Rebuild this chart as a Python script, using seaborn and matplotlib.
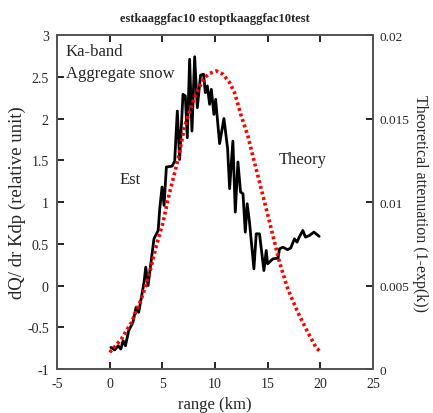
import matplotlib
matplotlib.use("Agg")
import matplotlib.pyplot as plt
import seaborn as sns
import pandas as pd

# Estimated dQ/dr Kdp (left axis)
est_range = [0.1, 0.47, 0.8, 1.05, 1.27, 1.49, 1.8, 2.2, 2.5, 2.75, 3.26, 3.42, 3.64, 3.96,
             4.2, 4.6, 4.75, 4.97, 5.16, 5.38, 5.92, 6.17, 6.42, 6.64, 6.96, 7.18, 7.37, 7.59,
             7.81, 8.07, 8.32, 8.63, 8.92, 9.08, 9.27, 9.49, 9.65, 9.9, 10.06, 10.44, 10.85,
             11.2, 11.39, 11.7, 11.93, 12.18, 12.43, 12.66, 12.88, 13.06, 13.28, 13.7, 13.92,
             14.23, 14.65, 14.87, 15.0, 15.5, 16.0, 16.13, 16.45, 16.9, 17.2, 17.55, 17.8,
             18.0, 18.35, 18.6, 18.98, 19.4, 19.6, 19.9]
est_value = [-0.74, -0.77, -0.72, -0.76, -0.66, -0.72, -0.54, -0.44, -0.26, -0.32, 0.04, 0.22,
             0.0, 0.32, 0.56, 0.66, 0.92, 1.18, 0.96, 1.42, 1.43, 1.49, 2.09, 1.51, 2.29, 2.27,
             1.77, 2.71, 1.85, 2.74, 2.13, 2.52, 2.53, 2.31, 2.39, 2.17, 2.35, 2.05, 2.23, 1.70,
             2.0, 1.64, 1.16, 1.73, 0.88, 1.48, 1.12, 1.10, 0.64, 0.98, 0.76, 0.2, 0.62, 0.62,
             0.18, 0.42, 0.26, 0.32, 0.33, 0.44, 0.46, 0.43, 0.45, 0.56, 0.52, 0.58, 0.66,
             0.58, 0.60, 0.64, 0.62, 0.59]

# Theoretical attenuation (right axis)
theo_range = [0.0, 1.1, 2.06, 3.0, 3.8, 4.43, 5.07, 5.54, 6.49, 7.12, 7.75, 8.39, 9.02, 9.49,
              10.12, 10.76, 11.39, 11.86, 12.5, 13.13, 13.6, 14.23, 14.87, 15.5, 16.13, 16.92,
              17.87, 18.82, 19.6, 20.0]
theo_value = [0.001, 0.0018, 0.0028, 0.0042, 0.0058, 0.0074, 0.0088, 0.0102, 0.01255, 0.01455,
              0.01575, 0.01675, 0.01745, 0.0177, 0.01785, 0.01765, 0.01715, 0.01655, 0.01515,
              0.01395, 0.01275, 0.0112, 0.0096, 0.008, 0.0064, 0.0048, 0.0034, 0.0022, 0.0013,
              0.00105]

x_ticks = [-5, 0, 5, 10, 15, 20, 25]
y_ticks = [-1, -0.5, 0, 0.5, 1, 1.5, 2, 2.5, 3]
y_tick_labels = ["-1", "-0.5", "0", "0.5", "1", "1.5", "2", "2.5", "3"]
y2_ticks = [0, 0.005, 0.01, 0.015, 0.02]
y2_tick_labels = ["0", "0.005", "0.01", "0.015", "0.02"]

sns.set_style("ticks")
plt.rcParams["font.family"] = ["Liberation Serif", "DejaVu Serif"]

fig = plt.figure(figsize=(4.33, 4.14), dpi=100)
ax = fig.add_axes([0.132, 0.106, 0.729, 0.807])
ax2 = ax.twinx()

est_df = pd.DataFrame({"range": est_range, "value": est_value})
theo_df = pd.DataFrame({"range": theo_range, "value": theo_value})

sns.lineplot(data=est_df, x="range", y="value", ax=ax, color="black", lw=2.0,
             sort=False, estimator=None)
sns.lineplot(data=theo_df, x="range", y="value", ax=ax2, color="red", lw=2.6,
             sort=False, estimator=None, linestyle=(0, (0.8, 0.8)))

ax.set_xlim(-5, 25)
ax.set_ylim(-1, 3)
ax2.set_ylim(0, 0.02)
ax.set_xticks(x_ticks)
ax.set_xticklabels([str(t) for t in x_ticks])
ax.set_yticks(y_ticks)
ax.set_yticklabels(y_tick_labels)
ax2.set_yticks(y2_ticks)
ax2.set_yticklabels(y2_tick_labels)

for a in (ax, ax2):
    for s in a.spines.values():
        s.set_visible(True)
        s.set_color("#555555")
        s.set_linewidth(1.3)
ax.tick_params(axis="x", direction="in", top=True, length=5, width=1.2, labelsize=10, pad=6, color="black")
ax.tick_params(axis="y", direction="in", length=5, width=1.2, labelsize=10, pad=6, color="black")
ax2.tick_params(axis="y", direction="in", length=5, width=1.2, labelsize=9.5, pad=5, color="black")

ax.set_xlabel("range (km)", fontsize=12, labelpad=4)
ax.set_ylabel("dQ/ dr Kdp (relative unit)", fontsize=13.5, labelpad=1)
ax2.set_ylabel("Theoretical attenuation (1-exp(k))", fontsize=11.5, rotation=270, labelpad=13)

ax.set_title("estkaaggfac10 estoptkaaggfac10test", fontsize=9, fontweight="bold", pad=10)

ax.text(-4.2, 2.81, "Ka-band", fontsize=12, va="center", ha="left")
ax.text(-4.2, 2.55, "Aggregate snow", fontsize=12, va="center", ha="left")
ax.text(0.9, 1.28, "Est", fontsize=12, va="center", ha="left")
ax.text(16.1, 1.51, "Theory", fontsize=12, va="center", ha="left")

fig.savefig("out.png", dpi=100)
